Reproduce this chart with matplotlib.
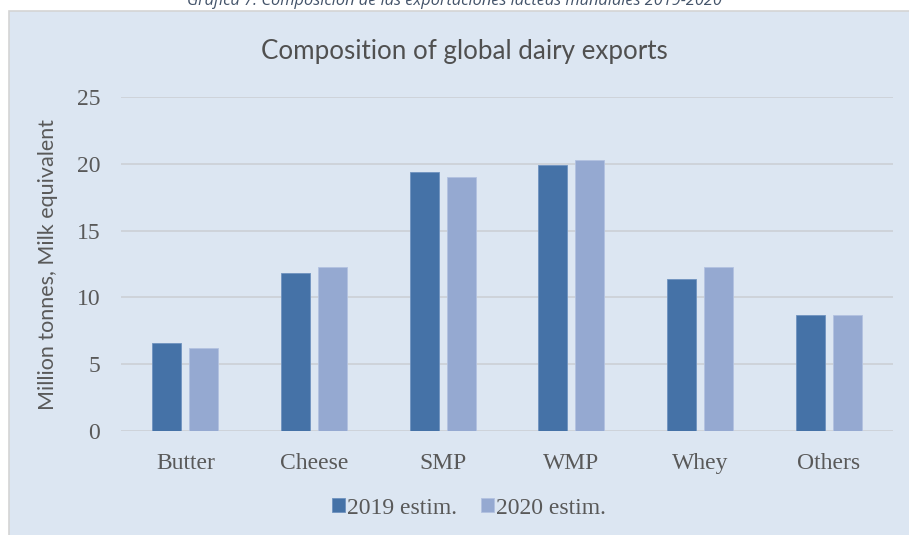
import numpy as np
import matplotlib
matplotlib.use("Agg")
import matplotlib.pyplot as plt
from matplotlib.patches import Rectangle

# Composición de las exportaciones lácteas mundiales 2019-2020

CATEGORIAS = ['Butter', 'Cheese', 'SMP', 'WMP', 'Whey', 'Others']
VALORES_2019 = [6.6, 11.8, 19.4, 19.9, 11.4, 8.7]
VALORES_2020 = [6.2, 12.3, 19.0, 20.3, 12.3, 8.7]
SERIES = ['2019 estim.', '2020 estim.']
TICKS_Y = [0, 5, 10, 15, 20, 25]

COLOR_2019 = '#4572A7'
COLOR_2020 = '#95A9D1'
FONDO = '#DCE6F2'
GRIS_TEXTO = '#595959'

fig = plt.figure(figsize=(9.09, 5.35), dpi=100)
fig.patch.set_facecolor('white')

# panel de fondo del gráfico
panel = Rectangle((9 / 909, -0.01), 1, 1.01 - 11 / 535, transform=fig.transFigure,
                  facecolor=FONDO, edgecolor='#D4D4D4', linewidth=1.2, zorder=-5)
fig.patches.append(panel)

# leyenda del documento, cortada arriba como en el original
fig.text(0.5, 1 - 5 / 535, 'Gráfica 7: Composición de las exportaciones lácteas mundiales 2019-2020',
         ha='center', va='baseline', fontsize=11.8, style='italic', family='Open Sans',
         color='#44546A')

ax = fig.add_axes([121 / 909, 1 - 431 / 535, 772 / 909, (431 - 97) / 535])
ax.set_facecolor('none')
ax.set_zorder(2)

x = np.arange(len(CATEGORIAS))
ancho = 0.225
desp = 0.144
ax.bar(x - desp, VALORES_2019, width=ancho, color=COLOR_2019, edgecolor='#6F93BF',
       linewidth=0.6, label=SERIES[0], zorder=3)
ax.bar(x + desp, VALORES_2020, width=ancho, color=COLOR_2020, edgecolor='#B3C2E0',
       linewidth=0.6, label=SERIES[1], zorder=3)

ax.set_xlim(-0.5, len(CATEGORIAS) - 0.5)
ax.set_ylim(0, 25)
ax.set_yticks(TICKS_Y)
ax.set_xticks(x)
ax.set_xticklabels(CATEGORIAS)
ax.yaxis.grid(True, color='#CDD2D8', linewidth=1.3, zorder=1)
ax.set_axisbelow(True)
for lado in ax.spines.values():
    lado.set_visible(False)
ax.tick_params(axis='both', length=0, labelcolor=GRIS_TEXTO, labelsize=17)
ax.tick_params(axis='x', pad=15.5)
ax.tick_params(axis='y', pad=15)
for etiqueta in ax.get_xticklabels() + ax.get_yticklabels():
    etiqueta.set_family('Liberation Serif')

ax.set_ylabel('Million tonnes, Milk equivalent', family='Lato', fontsize=15.5,
              color=GRIS_TEXTO)
ax.yaxis.set_label_coords(-63 / 772, 0.5)

fig.text(464 / 909, 1 - 51 / 535, 'Composition of global dairy exports', ha='center',
         va='center', family='Lato', fontsize=18.7, color='#505050')

leyenda = fig.legend(loc='center', bbox_to_anchor=(469 / 909, 1 - 508 / 535), ncol=2,
                     frameon=False, prop={'family': 'Liberation Serif', 'size': 17},
                     handlelength=0.55, handleheight=0.55, handletextpad=0.1,
                     columnspacing=1.0)
for texto in leyenda.get_texts():
    texto.set_color(GRIS_TEXTO)

fig.savefig('out.png', dpi=100, facecolor=fig.get_facecolor())
